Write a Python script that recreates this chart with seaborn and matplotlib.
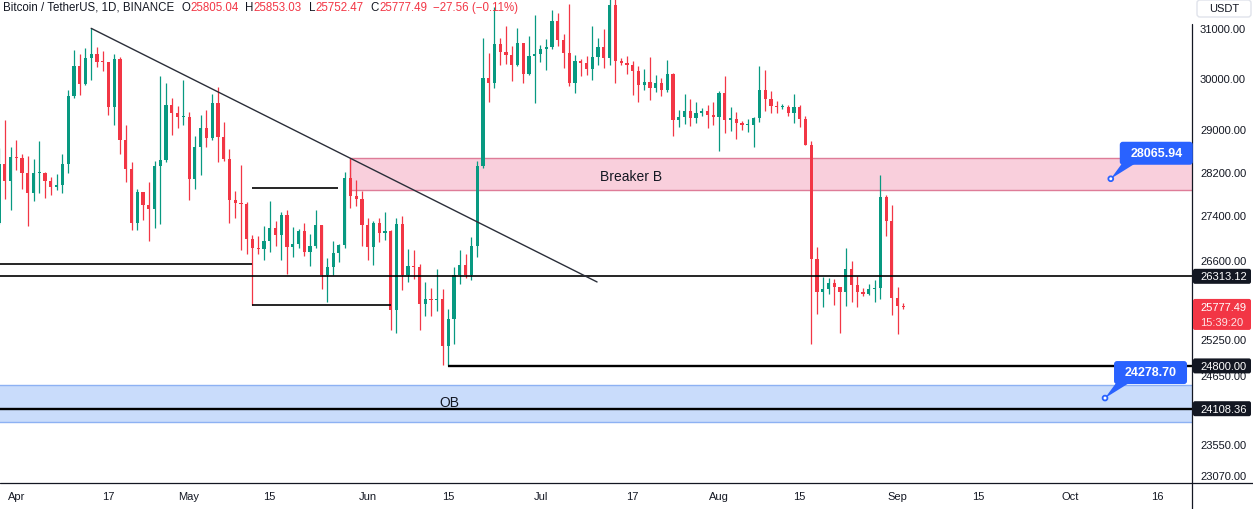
import numpy as np
import pandas as pd
import matplotlib
matplotlib.use("Agg")
import matplotlib.pyplot as plt
import matplotlib.dates as mdates
import matplotlib.transforms as mtransforms
from matplotlib.patches import FancyBboxPatch, Polygon, Circle, Rectangle
from matplotlib.lines import Line2D
from matplotlib.ticker import FixedLocator, NullLocator, FuncFormatter, NullFormatter
import seaborn as sns

# ---------------- data (BTC/USDT daily) ----------------
dates = pd.date_range("2023-03-29", "2023-09-02", freq="D")

opens = [27250, 28348, 28028,
    28465, 28452, 28171, 27800, 28165, 28170, 28033, 27906, 27947, 28333, 29653, 30235, 29884, 30390, 30485,
    30317, 30315, 29431, 30380, 28797, 28243, 27262, 27816, 27590, 27514, 28300, 28415, 29472, 29311, 29230,
    29233, 28068, 28669, 29026, 28838, 29506, 28848, 28430, 27668, 27628, 27598, 26969, 26805, 26784, 26930,
    27172, 27033, 27404, 26821, 26890, 27118, 26747, 26850, 27226, 26334, 26476, 26720, 26868, 28085, 27746, 27702,
    27220, 26820, 27253, 27069, 27116, 25728, 27231, 26340, 26498, 26477, 25841, 25926, 25906, 25929, 25129,
    25588, 26335, 26516, 26340, 26844, 28307, 29993, 29890, 30688, 30527, 30462, 30267, 30693, 30078, 30446,
    30472, 30585, 30617, 31156, 30767, 30505, 29895, 30347, 30292, 30171, 30414, 30620, 30391, 31476, 30334,
    30295, 30249, 30145, 29856, 29913, 29792, 29908, 29771, 30083, 29176, 29228, 29354, 29210, 29316, 29357, 29275,
    29230, 29705, 29186, 29193, 29113, 29072, 29088, 29211, 29770, 29581, 29455, 29426, 29430, 29304, 29430,
    29200, 28701, 26623, 26049, 26097, 26189, 26124, 26041, 26432, 26163, 26047, 26008, 26089, 26106, 27728, 27297,
    25941, 25805.04]

highs = [28650, 29184, 28660,
    28803, 28532, 28500, 28444, 28775, 28190, 28100, 28154, 28530, 29770, 30550, 30486, 30595, 31000, 30619,
    30549, 30319, 30485, 30413, 29087, 28374, 27882, 27816, 28000, 28399, 30036, 29890, 29599, 29448, 29969,
    29337, 28879, 29266, 29379, 29677, 29820, 29138, 28631, 27835, 28331, 27630, 27050, 27030, 27200, 27662,
    27299, 27465, 27485, 27183, 27150, 27266, 27064, 27495, 27229, 26631, 26932, 26888, 28193, 28447, 28045, 27834,
    27350, 27300, 27340, 27456, 27131, 27355, 27391, 26800, 26783, 26533, 26210, 26108, 26433, 26087, 25750,
    26480, 26778, 26700, 27000, 28402, 30800, 30500, 31431, 30800, 31046, 30650, 31006, 30703, 30843, 31282,
    30659, 30791, 31380, 31322, 30888, 31500, 30449, 30378, 30445, 31045, 30800, 30979, 31804, 31630, 30390,
    30445, 30340, 30233, 30184, 30417, 30061, 29991, 30350, 30098, 29376, 29690, 29580, 29530, 29415, 29470, 29525,
    29750, 30047, 29433, 29333, 29152, 29205, 29244, 30244, 30160, 29738, 29542, 29481, 29474, 29675, 29474,
    29259, 28783, 26834, 26299, 26284, 26258, 26135, 26808, 26575, 26316, 26107, 26180, 26253, 28142, 27760, 27575,
    26125, 25853.03]

lows = [27240, 27686, 27500,
    28227, 27870, 27200, 27662, 27805, 27711, 27766, 27859, 27800, 28170, 29610, 29666, 29863, 29966, 30226,
    30135, 29271, 29088, 28520, 28010, 27125, 27140, 27311, 26942, 27175, 27235, 28379, 28891, 29031, 29080,
    27666, 27873, 28130, 28670, 28800, 28375, 28395, 27262, 27353, 26777, 26702, 25811, 26700, 26601, 26740,
    26852, 26600, 26360, 26651, 26818, 26666, 26500, 26817, 26087, 25871, 26343, 26557, 26810, 27524, 27557, 26841,
    26605, 26505, 26916, 26958, 25388, 25351, 26079, 26208, 26269, 25400, 25630, 25640, 25722, 24820, 24800,
    25160, 26180, 26277, 26256, 26652, 28266, 29525, 29804, 30250, 30277, 29930, 30236, 29900, 30050, 29500,
    30323, 30155, 30570, 30633, 30200, 29850, 29701, 30045, 30050, 29950, 30266, 30200, 30254, 29900, 30250,
    30077, 29660, 29525, 29760, 29565, 29720, 29640, 29730, 28862, 29047, 29101, 29069, 29120, 29256, 29033, 29083,
    28585, 28927, 28959, 28805, 28978, 28950, 28660, 29146, 29350, 29311, 29316, 29389, 29251, 29127, 29045,
    28701, 25166, 25668, 25790, 26003, 25812, 25350, 25800, 25864, 25777, 25966, 25985, 25862, 25922, 27025, 25655,
    25333, 25752.47]

closes = [28348, 28028, 28465,
    28452, 28171, 27800, 28165, 28170, 28033, 27906, 27947, 28333, 29653, 30235, 29884, 30390, 30485, 30317,
    30315, 29431, 30380, 28797, 28243, 27262, 27816, 27590, 27514, 28300, 28415, 29472, 29311, 29230, 29233,
    28068, 28669, 29026, 28838, 29506, 28848, 28430, 27668, 27628, 27598, 26969, 26805, 26784, 26930, 27172,
    27033, 27404, 26821, 26890, 27118, 26747, 26850, 27226, 26334, 26476, 26720, 26868, 28085, 27746, 27702, 27220,
    26820, 27253, 27069, 27116, 25728, 27231, 26340, 26498, 26477, 25841, 25926, 25906, 25929, 25129, 25588,
    26335, 26516, 26340, 26844, 28307, 29993, 29890, 30688, 30527, 30462, 30267, 30693, 30078, 30446, 30472,
    30585, 30617, 31156, 30767, 30505, 29895, 30347, 30292, 30171, 30414, 30620, 30391, 31476, 30334, 30295,
    30249, 30145, 29856, 29913, 29792, 29908, 29771, 30083, 29176, 29228, 29354, 29210, 29316, 29357, 29275, 29230,
    29705, 29186, 29193, 29113, 29072, 29088, 29211, 29770, 29581, 29455, 29426, 29430, 29304, 29430, 29200,
    28701, 26623, 26049, 26097, 26189, 26124, 26041, 26432, 26163, 26047, 26008, 26089, 26106, 27728, 27297, 25941,
    25805, 25777.49]

ytick_values = [31000, 30000, 29000, 28200, 27400, 26600, 25250, 24650, 23550, 23070]
xtick_dates = ["2023-04-01", "2023-04-17", "2023-05-01", "2023-05-15", "2023-06-01", "2023-06-15",
               "2023-07-01", "2023-07-17", "2023-08-01", "2023-08-15", "2023-09-01", "2023-09-15",
               "2023-10-01", "2023-10-16"]
xtick_labels = ["Apr", "17", "May", "15", "Jun", "15", "Jul", "17", "Aug", "15", "Sep", "15", "Oct", "16"]

# drawings
trend_pts = [("2023-04-14", 31000), ("2023-07-10 19:40", 26215)]
breaker_zone = ("2023-05-29", 27860, 28447)
ob_zone = (23901, 24492)
seg_levels = [("2023-03-20", "2023-05-12", 26534, 1.2),
              ("2023-05-12", "2023-05-26 20:00", 27898, 1.2),
              ("2023-05-12", "2023-06-05", 25811, 1.2),
              ("2023-03-20", "2023-11-30", 26313.12, 1.2),
              ("2023-06-15", "2023-11-30", 24800.00, 1.7),
              ("2023-03-20", "2023-11-30", 24108.36, 1.7)]
callouts = [("2023-10-08", 28065.94), ("2023-10-07", 24278.70)]
price_tags = [26313.12, 24800.00, 24108.36]
last_price = 25777.49
countdown = "15:39:20"

# ---------------- style ----------------
sns.set_style("white")
plt.rcParams["font.family"] = ["Liberation Sans", "DejaVu Sans"]
GREEN = "#089981"
RED = "#F23645"
DARK = "#131722"
BLUE = "#2962FF"

W, H = 1253, 510
fig = plt.figure(figsize=(W / 100, H / 100), dpi=100)
fig.patch.set_facecolor("white")
ax = fig.add_axes([0, 26 / H, 1192 / W, 484 / H])
ax.set_facecolor("white")
ID = mtransforms.IdentityTransform()

df = pd.DataFrame({"date": dates, "open": opens, "high": highs, "low": lows, "close": closes})
df["x"] = mdates.date2num(df["date"])
up = df["close"] >= df["open"]
cols = np.where(up, GREEN, RED)
body_lo = df[["open", "close"]].min(axis=1)
body_h = np.maximum((df["close"] - df["open"]).abs(), body_lo * 0.0008)

ax.set_yscale("log")
x0 = mdates.date2num(pd.Timestamp("2023-04-01"))
ax.set_xlim(x0 - 2.83, x0 + 204.1)
ax.set_ylim(22953, 31607)

ax.vlines(df["x"], df["low"], df["high"], colors=cols, lw=0.9, zorder=4)
ax.bar(df["x"], body_h, bottom=body_lo, width=0.56, color=cols, lw=0, zorder=5)

# zones
bx = mdates.date2num(pd.Timestamp(breaker_zone[0]))
ax.add_patch(Rectangle((bx, breaker_zone[1]), 400, breaker_zone[2] - breaker_zone[1],
                       fc="#F9CFDC", ec="#DE7C98", lw=1.0, zorder=1))
ax.add_patch(Rectangle((x0 - 50, ob_zone[0]), 400, ob_zone[1] - ob_zone[0],
                       fc="#C9DCFB", ec="#8DB1F3", lw=1.0, zorder=1))

# lines
for a, b, lvl, lw in seg_levels:
    ax.plot([mdates.date2num(pd.Timestamp(a)), mdates.date2num(pd.Timestamp(b))], [lvl, lvl],
            color="black", lw=lw, zorder=6, solid_capstyle="butt")
ax.plot([mdates.date2num(pd.Timestamp(p[0])) for p in trend_pts], [p[1] for p in trend_pts],
        color="#2A2E39", lw=1.0, zorder=6)

ax.text(mdates.date2num(pd.Timestamp("2023-07-11 07:00")), 28122, "Breaker B", fontsize=10,
        color=DARK, ha="left", va="center", zorder=7)
ax.text(mdates.date2num(pd.Timestamp("2023-06-15 05:00")), 24209, "OB", fontsize=10,
        color=DARK, ha="center", va="center", zorder=7)

# axes ticks
for s in ax.spines.values():
    s.set_visible(False)
ax.yaxis.set_major_locator(FixedLocator(ytick_values))
ax.yaxis.set_minor_locator(NullLocator())
ax.yaxis.set_minor_formatter(NullFormatter())
ax.yaxis.set_major_formatter(FuncFormatter(lambda v, p: f"{v:.2f}"))
ax.yaxis.tick_right()
ax.tick_params(axis="y", length=0, pad=5.8, labelsize=8, labelcolor=DARK)
ax.set_xticks(mdates.date2num(pd.to_datetime(xtick_dates)))
ax.set_xticklabels(xtick_labels)
ax.tick_params(axis="x", length=0, pad=5.5, labelsize=8, labelcolor=DARK)
ax.grid(False)

# axis border lines
fig.add_artist(Line2D([1192 / W, 1192 / W], [0, 1 - 25 / H], color=DARK, lw=0.9, transform=fig.transFigure))
fig.add_artist(Line2D([0, 1], [26 / H, 26 / H], color=DARK, lw=0.9, transform=fig.transFigure))

# USDT box
fig.add_artist(FancyBboxPatch((1197, H - 18), 54, 17, boxstyle="round,pad=0,rounding_size=3",
                              fc="white", ec="#E0E3EB", lw=1, transform=ID))
fig.text(1224, H - 9.5, "USDT", fontsize=8, color=DARK, ha="center", va="center", transform=ID)

# price tags
for pr in price_tags:
    _, yc = ax.transData.transform((x0, pr))
    fig.add_artist(FancyBboxPatch((1193, yc - 7.5), 58, 15, boxstyle="round,pad=0,rounding_size=2",
                                  fc=DARK, ec="none", transform=ID, zorder=10))
    fig.text(1200, yc, f"{pr:.2f}", fontsize=8, color="white", ha="left", va="center",
             transform=ID, zorder=11)
_, yc = ax.transData.transform((x0, last_price))
fig.add_artist(FancyBboxPatch((1193, yc - 22.5), 58, 31, boxstyle="round,pad=0,rounding_size=2",
                              fc=RED, ec="none", transform=ID, zorder=10))
fig.text(1200, yc, f"{last_price:.2f}", fontsize=8, color="white", ha="left", va="center",
         transform=ID, zorder=11)
fig.text(1200, yc - 15, countdown, fontsize=8, color="#FDE3E5", ha="left", va="center",
         transform=ID, zorder=11)

# callouts
for d, pr in callouts:
    dx, dy = ax.transData.transform((mdates.date2num(pd.Timestamp(d)), pr))
    fig.add_artist(Polygon([(dx + 11, dy + 15), (dx + 24, dy + 15), (dx, dy)], closed=True,
                           fc=BLUE, ec="none", transform=ID, zorder=10))
    fig.add_artist(FancyBboxPatch((dx + 9, dy + 14), 73, 23, boxstyle="round,pad=0,rounding_size=3",
                                  fc=BLUE, ec="none", transform=ID, zorder=10))
    fig.add_artist(Circle((dx, dy), 2.4, fc="white", ec=BLUE, lw=1.3, transform=ID, zorder=11))
    fig.text(dx + 46, dy + 26, f"{pr:.2f}", fontsize=9, fontweight="bold", color="white",
             ha="center", va="center", transform=ID, zorder=11)

# header
renderer = fig.canvas.get_renderer()
parts = [("Bitcoin / TetherUS, 1D, BINANCE", DARK, 0), ("O", DARK, 7), ("25805.04", RED, 0),
         ("H", DARK, 7), ("25853.03", RED, 0), ("L", DARK, 7), ("25752.47", RED, 0),
         ("C", DARK, 7), ("25777.49", RED, 0), ("\u221227.56 (\u22120.11%)", RED, 6)]
xcur = 3
for txt, c, gap in parts:
    xcur += gap
    t = fig.text(xcur, H - 8, txt, fontsize=8.3, color=c, ha="left", va="center", transform=ID, zorder=12)
    bb = t.get_window_extent(renderer=renderer)
    xcur = bb.x1

fig.savefig("out.png", dpi=100, facecolor="white")
